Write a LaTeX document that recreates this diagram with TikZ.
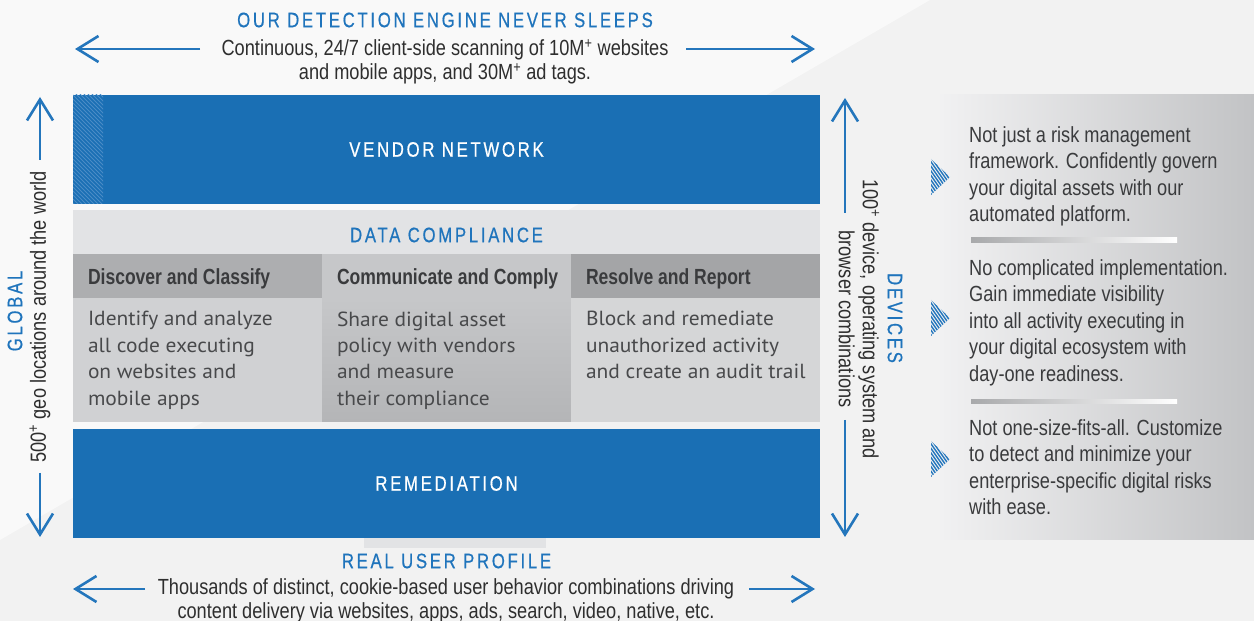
\documentclass[tikz,border=0pt]{standalone}
\usepackage{fontspec}
\setmainfont{Liberation Sans}
\newfontfamily\narrowfont[FakeStretch=0.83]{Liberation Sans}
\newfontfamily\narrowbold[FakeStretch=0.8]{Liberation Sans Bold}
\newfontfamily\spacedfont[FakeStretch=0.8,LetterSpace=13,FakeBold=0.6]{Liberation Sans}
\newfontfamily\dinfont[FakeStretch=1.05]{PT Sans}
\usetikzlibrary{arrows.meta}
\definecolor{brandblue}{HTML}{1A6FB4}
\definecolor{titleblue}{HTML}{1F74BC}
\definecolor{arrowblue}{HTML}{2476BC}
\definecolor{hatchblue}{HTML}{4A8CC6}
\definecolor{inkgray}{HTML}{2E2E2E}
\definecolor{bodyink}{HTML}{48494B}
\definecolor{headink}{HTML}{3A3B3D}
\definecolor{bggray}{HTML}{F2F2F2}
\definecolor{bglight}{HTML}{F9F9F9}
\definecolor{bandgray}{HTML}{E2E3E5}
\definecolor{headgray}{HTML}{ADAEB0}
\definecolor{bodygray}{HTML}{D0D1D3}
\definecolor{midtop}{HTML}{C6C7C9}
\definecolor{midbot}{HTML}{B4B5B7}
\definecolor{panelL}{HTML}{F1F1F2}
\definecolor{panelM}{HTML}{E3E4E5}
\definecolor{panelR}{HTML}{C2C3C5}
\definecolor{sepgray}{HTML}{A8A9AB}
\begin{document}
\begin{tikzpicture}[>={Straight Barb[length=21bp,width=26bp]},line join=bevel,
  barrow/.style={draw=arrowblue,line width=2.6bp,->},
  bluebar/.style={fill=brandblue,draw=none,minimum width=747bp,minimum height=109bp},
  spaced/.style={font=\spacedfont\fontsize{21}{24}\selectfont,inner sep=0pt},
  plain/.style={font=\narrowfont\fontsize{22}{24}\selectfont,text=inkgray,inner sep=0pt},
  headbox/.style={draw=none,minimum width=249bp,minimum height=44bp,inner sep=0pt},
  colhead/.style={font=\narrowbold\fontsize{22}{24}\selectfont,text=headink,inner sep=0pt,anchor=west},
  colbox/.style={draw=none,minimum width=249bp,minimum height=124bp,inner sep=0pt},
  colbody/.style={font=\dinfont\fontsize{20.5}{26.5}\selectfont,text=bodyink,align=left,
    anchor=north west,inner sep=0pt},
  sidetxt/.style={font=\narrowfont\fontsize{22}{26.7}\selectfont,text=headink,align=left,
    anchor=north west,inner sep=0pt},
  hatch/.style={hatchblue,line width=0.9bp}]
%%
\useasboundingbox (0bp,0bp) rectangle (1254bp,621bp);
\fill[bggray] (0bp,0bp) rectangle (1254bp,621bp);
\fill[bglight] (0bp,621bp) -- (930bp,621bp) -- (0bp,81bp) -- cycle;
%
\node (engine) at (445bp,601bp) [spaced,text=titleblue] {OUR DETECTION ENGINE NEVER SLEEPS};
\node (scan) at (445bp,559bp) [plain,align=center] {Continuous, 24/7 client-side scanning of 10M\textsuperscript{+} websites\\and mobile apps, and 30M\textsuperscript{+} ad tags.};
\coordinate (scanLa) at (200bp,572bp);
\coordinate (scanLb) at (75bp,572bp);
\coordinate (scanRa) at (686bp,572bp);
\coordinate (scanRb) at (815bp,572bp);
\draw[barrow] (scanLa) -- (scanLb);
\draw[barrow] (scanRa) -- (scanRb);
%
\node (vendor) at (446.5bp,471.5bp) [bluebar,spaced,text=white] {VENDOR NETWORK};
\begin{scope}
  \clip (73bp,417bp) rectangle (103bp,526bp);
  \foreach \k in {0,...,38}
    \draw[hatch] (73bp,{(566-4*\k)*1bp}) -- ++(40bp,-40bp);
\end{scope}
%
\fill[bandgray] (73bp,411bp) rectangle (820bp,367bp);
\node (compliance) at (446.5bp,386bp) [spaced,text=titleblue] {DATA COMPLIANCE};
\node (discoverhead) at (197.5bp,345bp) [headbox,fill=headgray] {};
\node (communicatehead) at (446.5bp,345bp) [headbox,fill=midtop] {};
\node (resolvehead) at (695.5bp,345bp) [headbox,fill=headgray!95!black] {};
\node (discoverbox) at (197.5bp,261bp) [colbox,fill=bodygray] {};
\node (communicatebox) at (446.5bp,261bp) [colbox,top color=midtop,bottom color=midbot] {};
\node (resolvebox) at (695.5bp,261bp) [colbox,fill=bodygray!90!white] {};
\node (discoverlabel) at ([xshift=15bp,yshift=-3bp]discoverhead.west) [colhead] {Discover and Classify};
\node (communicatelabel) at ([xshift=15bp,yshift=-3bp]communicatehead.west) [colhead] {Communicate and Comply};
\node (resolvelabel) at ([xshift=15bp,yshift=-3bp]resolvehead.west) [colhead] {Resolve and Report};
\node (discovertext) at ([xshift=15bp,yshift=-13.5bp]discoverbox.north west) [colbody] {Identify and analyze\\all code executing\\on websites and\\mobile apps};
\node (communicatetext) at ([xshift=15bp,yshift=-13.5bp]communicatebox.north west) [colbody] {Share digital asset\\policy with vendors\\and measure\\their compliance};
\node (resolvetext) at ([xshift=15bp,yshift=-13.5bp]resolvebox.north west) [colbody] {Block and remediate\\unauthorized activity\\and create an audit trail};
%
\node (remediation) at (446.5bp,137.5bp) [bluebar,spaced,text=white] {REMEDIATION};
\fill[bandgray] (364bp,83bp) rectangle (546bp,73bp);
\node (realuser) at (446.5bp,60bp) [spaced,text=titleblue] {REAL USER PROFILE};
\node (thousands) at (446bp,20.5bp) [plain,align=center] {Thousands of distinct, cookie-based user behavior combinations driving\\content delivery via websites, apps, ads, search, video, native, etc.};
\coordinate (userLa) at (145bp,32bp);
\coordinate (userLb) at (73bp,32bp);
\coordinate (userRa) at (749bp,32bp);
\coordinate (userRb) at (815bp,32bp);
\draw[barrow] (userLa) -- (userLb);
\draw[barrow] (userRa) -- (userRb);
%
\node (geo) at (40bp,304bp) [plain,rotate=90] {500\textsuperscript{+} geo locations around the world};
\node (global) at (15bp,310bp) [spaced,text=titleblue,rotate=90] {GLOBAL};
\coordinate (geoUa) at (40bp,461bp);
\coordinate (geoUb) at (40bp,524bp);
\coordinate (geoDa) at (40bp,148bp);
\coordinate (geoDb) at (40bp,84bp);
\draw[barrow] (geoUa) -- (geoUb);
\draw[barrow] (geoDa) -- (geoDb);
%
\node (devtext) at (859bp,302bp) [plain,rotate=-90,align=center] {100\textsuperscript{+} device, operating system and\\browser combinations};
\node (devices) at (895bp,303bp) [spaced,text=titleblue,rotate=-90] {DEVICES};
\coordinate (devUa) at (845bp,408bp);
\coordinate (devUb) at (845bp,523bp);
\coordinate (devDa) at (845bp,201bp);
\coordinate (devDb) at (845bp,84bp);
\draw[barrow] (devUa) -- (devUb);
\draw[barrow] (devDa) -- (devDb);
%
\shade[left color=panelL,middle color=panelM,right color=panelR] (940bp,81bp) rectangle (1254bp,526bp);
\node (riskframe) at (969bp,495bp) [sidetxt] {Not just a risk management\\framework. Confidently govern\\your digital assets with our\\automated platform.};
\node (visibility) at (969bp,362bp) [sidetxt] {No complicated implementation.\\Gain immediate visibility\\into all activity executing in\\your digital ecosystem with\\day-one readiness.};
\node (customize) at (969bp,202bp) [sidetxt] {Not one-size-fits-all. Customize\\to detect and minimize your\\enterprise-specific digital risks\\with ease.};
\shade[left color=sepgray,right color=white] (971bp,378.7bp) rectangle (1177bp,383.3bp);
\shade[left color=sepgray,right color=white] (971bp,217.7bp) rectangle (1177bp,221.7bp);
\foreach \ty in {444,303,162}{
  \begin{scope}
    \clip (931bp,{(\ty+18)*1bp}) -- (950bp,{\ty*1bp}) -- (931bp,{(\ty-18)*1bp}) -- cycle;
    \foreach \k in {0,...,18}
      \draw[arrowblue,line width=1.4bp] ({(902+3.2*\k)*1bp},{(\ty+20)*1bp}) -- ++(28bp,-40bp);
  \end{scope}}
%
\end{tikzpicture}
\end{document}
